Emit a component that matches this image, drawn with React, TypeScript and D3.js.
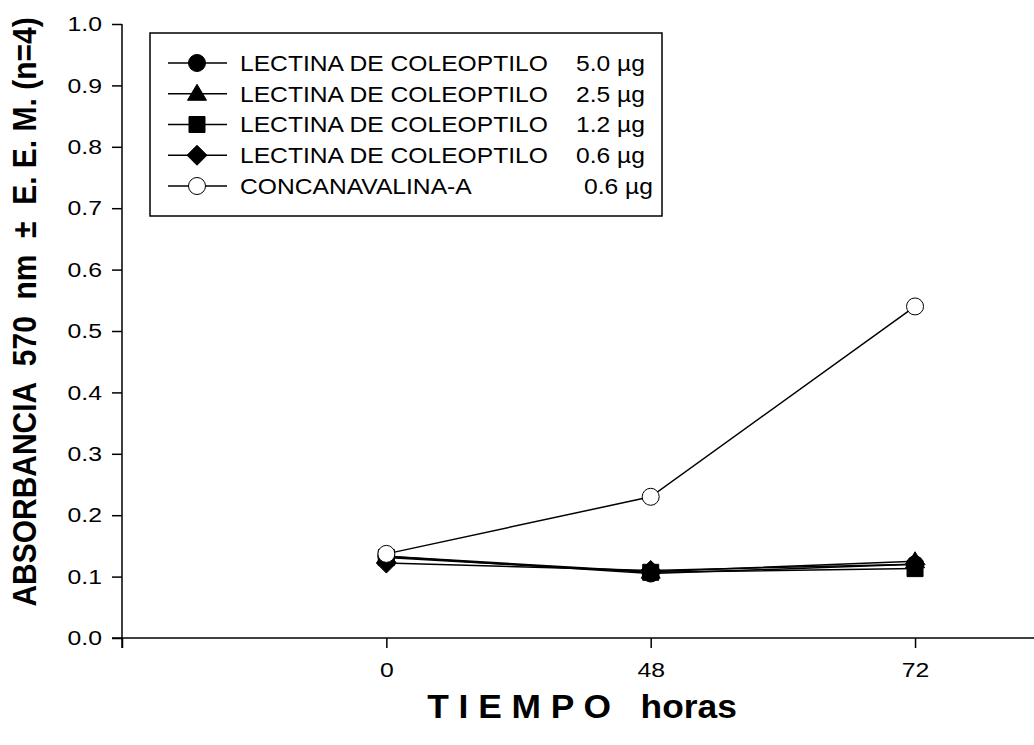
import React, { useEffect, useRef } from "react";
import * as d3 from "d3";

const timeLabels = ["0", "48", "72"];
const timeIndex = [0, 1, 2];

const seriesNames = [
  "LECTINA DE COLEOPTILO",
  "LECTINA DE COLEOPTILO",
  "LECTINA DE COLEOPTILO",
  "LECTINA DE COLEOPTILO",
  "CONCANAVALINA-A",
];
const seriesDoses = ["5.0 µg", "2.5 µg", "1.2 µg", "0.6 µg", "0.6 µg"];
const seriesShapes = ["circle", "triangle", "square", "diamond", "open"];

const lectina50 = [0.133, 0.105, 0.12];
const lectina25 = [0.133, 0.108, 0.125];
const lectina12 = [0.131, 0.107, 0.113];
const lectina06 = [0.122, 0.11, 0.12];
const concanavalina = [0.137, 0.23, 0.54];

const seriesValues = [lectina50, lectina25, lectina12, lectina06, concanavalina];

const yTicks = d3.range(0, 11).map((d) => d / 10);

const FONT = "Arial, 'Liberation Sans', Helvetica, sans-serif";
const SX = 1.18;

function markerPath(shape: string): string {
  switch (shape) {
    case "triangle":
      return "M0,-9.5L9.5,6.5L-9.5,6.5Z";
    case "square":
      return "M-8,-8L8,-8L8,8L-8,8Z";
    case "diamond":
      return "M0,-10L10,0L0,10L-10,0Z";
    default:
      return d3.symbol().type(d3.symbolCircle).size(Math.PI * 8.5 * 8.5)()!;
  }
}

function stretch(sel: d3.Selection<any, any, any, any>, sx: number) {
  sel.each(function () {
    const t = d3.select(this);
    const x = +(t.attr("x") || 0);
    const y = +(t.attr("y") || 0);
    t.attr("x", 0).attr("y", 0).attr("transform", `translate(${x},${y}) scale(${sx},1)`);
  });
}

export default function App() {
  const ref = useRef<SVGSVGElement>(null);

  useEffect(() => {
    const svg = d3.select(ref.current);
    svg.selectAll("*").remove();

    const x = d3.scaleLinear().domain([-1, 2.45]).range([122, 1034]);
    const y = d3.scaleLinear().domain([0, 1]).range([638, 24]);

    // Y axis
    const yAxis = d3
      .axisLeft(y)
      .tickValues(yTicks)
      .tickSize(10)
      .tickPadding(10)
      .tickSizeOuter(0)
      .tickFormat((d) => d3.format(".1f")(d as number));
    const gy = svg.append("g").attr("transform", "translate(122,0)").call(yAxis);
    gy.select(".domain").attr("d", `M0,${y(1)}V${y(0) + 10}`);
    gy.selectAll("line").attr("stroke", "#000").attr("stroke-width", 1.5);
    gy.select(".domain").attr("stroke", "#000").attr("stroke-width", 1.5);
    const yt = gy
      .selectAll("text")
      .attr("font-family", FONT)
      .attr("font-size", 21)
      .attr("fill", "#000");
    stretch(yt as any, SX);

    // X axis
    const xAxis = d3
      .axisBottom(x)
      .tickValues([-1, ...timeIndex])
      .tickSize(10)
      .tickPadding(14)
      .tickSizeOuter(0)
      .tickFormat((d) => {
        const i = timeIndex.indexOf(d as number);
        return i >= 0 ? timeLabels[i] : "";
      });
    const gx = svg.append("g").attr("transform", `translate(0,${y(0)})`).call(xAxis);
    gx.select(".domain").attr("d", `M${x(-1) - 10},0H${x(2.45)}`);
    gx.selectAll("line").attr("stroke", "#000").attr("stroke-width", 1.5);
    gx.select(".domain").attr("stroke", "#000").attr("stroke-width", 1.5);
    const xt = gx
      .selectAll("text")
      .attr("font-family", FONT)
      .attr("font-size", 21)
      .attr("fill", "#000");
    stretch(xt as any, SX);

    // Lines and markers
    const line = d3
      .line<number>()
      .x((_, i) => x(timeIndex[i]))
      .y((d) => y(d));

    seriesValues.forEach((vals, si) => {
      const g = svg.append("g");
      g.append("path")
        .attr("d", line(vals))
        .attr("fill", "none")
        .attr("stroke", "#000")
        .attr("stroke-width", 1.5);
      const shape = seriesShapes[si];
      g.selectAll("path.m")
        .data(vals)
        .join("path")
        .attr("class", "m")
        .attr("d", markerPath(shape))
        .attr("transform", (d, i) => `translate(${x(timeIndex[i])},${y(d)})`)
        .attr("fill", shape === "open" ? "#fff" : "#000")
        .attr("stroke", "#000")
        .attr("stroke-width", 1);
    });

    // Legend
    const lg = svg.append("g");
    lg.append("rect")
      .attr("x", 150)
      .attr("y", 33)
      .attr("width", 512)
      .attr("height", 183)
      .attr("fill", "#fff")
      .attr("stroke", "#000")
      .attr("stroke-width", 1.5);
    const rowY = (i: number) => 63 + i * 30.75;
    seriesNames.forEach((name, i) => {
      const row = lg.append("g").attr("transform", `translate(0,${rowY(i)})`);
      row
        .append("line")
        .attr("x1", 168)
        .attr("x2", 227)
        .attr("stroke", "#000")
        .attr("stroke-width", 1.5);
      row
        .append("path")
        .attr("d", markerPath(seriesShapes[i]))
        .attr("transform", "translate(197,0)")
        .attr("fill", seriesShapes[i] === "open" ? "#fff" : "#000")
        .attr("stroke", "#000")
        .attr("stroke-width", 1);
      const t1 = row
        .append("text")
        .attr("x", 240)
        .attr("y", 0)
        .attr("dy", "0.36em")
        .attr("font-family", FONT)
        .attr("font-size", 22)
        .text(name);
      stretch(t1 as any, 1.12);
      const t2 = row
        .append("text")
        .attr("x", i === 4 ? 584 : 576)
        .attr("y", 0)
        .attr("dy", "0.36em")
        .attr("font-family", FONT)
        .attr("font-size", 22)
        .text(seriesDoses[i]);
      stretch(t2 as any, 1.12);
    });

    // Axis titles
    svg
      .append("text")
      .attr("transform", "translate(582,718) scale(1.04,1)")
      .attr("text-anchor", "middle")
      .attr("font-family", FONT)
      .attr("font-size", 34)
      .attr("font-weight", "bold")
      .style("white-space", "pre")
      .text("T I E M P O   horas");

    svg
      .append("text")
      .attr("transform", "translate(36,312) scale(1.1,1) rotate(-90)")
      .attr("text-anchor", "middle")
      .attr("font-family", FONT)
      .attr("font-size", 30)
      .attr("font-weight", "bold")
      .style("white-space", "pre")
      .text("ABSORBANCIA  570  nm  ±  E. E. M. (n=4)");
  }, []);

  return (
    <svg
      ref={ref}
      width={1034}
      height={745}
      style={{ position: "absolute", left: 0, top: 0, background: "#fff" }}
    />
  );
}
